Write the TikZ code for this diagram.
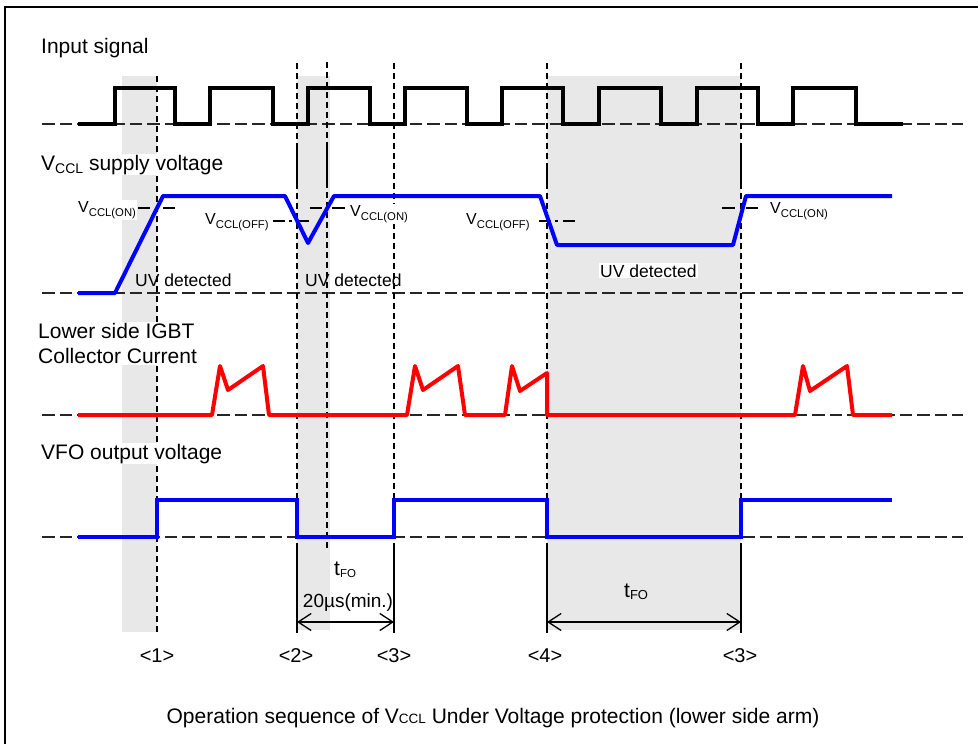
\documentclass[tikz,border=0pt]{standalone}
\usepackage{fontspec}
\setmainfont{Liberation Sans}
\usetikzlibrary{arrows.meta}
\newcommand{\myfs}[1]{\fontsize{#1}{#1}\selectfont}
\newcommand{\lowsub}[3]{\raisebox{-#3pt}{\myfs{#2}#1}}
\begin{document}
\begin{tikzpicture}[x=1pt,y=-1pt,
  hbase/.style={draw=black!85,line width=1.3pt,dash pattern=on 12.5pt off 5pt},
  vline/.style={draw=black,line width=1.2pt,dash pattern=on 6pt off 4pt},
  sline/.style={draw=black,line width=1.8pt},
  shadebox/.style={fill=black!9},
  wave/.style={line width=4pt},
  lbl/.style={inner sep=1pt,fill=white,font=\myfs{21}},
  thr/.style={draw=black,line width=1.3pt},
  dimarrow/.style={draw=black,line width=1.3pt,{Straight Barb[length=13pt,width=17pt]}-{Straight Barb[length=13pt,width=17pt]}}
]
\useasboundingbox (0,0) rectangle (978,744);
\fill[white] (0,0) rectangle (978,744);
% frame
\draw[line width=2pt] (5,760) -- (5,7) -- (990,7);

% shaded regions
\fill[shadebox] (122,76) rectangle (157,632);
\fill[shadebox] (297,76) rectangle (330,630);
\fill[shadebox] (547,76) rectangle (741,630);

% horizontal dashed baselines
\draw[hbase] (42,124) -- (963,124);
\draw[hbase] (42,293) -- (963,293);
\draw[hbase] (42,415) -- (963,415);
\draw[hbase] (42,537) -- (963,537);

% vertical dashed lines
\draw[vline] (157,76) -- (157,632);
\draw[vline] (297,63) -- (297,545);
\draw[vline] (327,62) -- (327,550);
\draw[vline] (394,63) -- (394,545);
\draw[vline] (547,63) -- (547,545);
\draw[vline] (741,63) -- (741,545);
% short solid pieces
\draw[sline] (297,148) -- (297,185);
\draw[sline] (327,148) -- (327,185);
\draw[sline] (547,163) -- (547,185);
\draw[sline] (741,148) -- (741,185);
% solid limit lines
\draw[sline] (297,545) -- (297,633);
\draw[sline] (394,545) -- (394,633);
\draw[sline] (547,545) -- (547,633);
\draw[sline] (741,545) -- (741,633);

% signal labels
\node[lbl,anchor=base west] (lin) at (40,53) {Input signal};
\node[lbl,anchor=base west] (lvccl) at (40,170) {V\lowsub{CCL}{14}{3.5} supply voltage};
\node[lbl,anchor=north west,align=left,font=\fontsize{21}{25}\selectfont] (lic) at (37,322) {Lower side IGBT\\Collector Current};
\node[lbl,anchor=base west] (lvfo) at (40,459) {VFO output voltage};

% threshold labels
\node[lbl,anchor=base west,font=\myfs{16}] (on1) at (77,212) {V\lowsub{CCL(ON)}{11.3}{4.5}};
\node[lbl,anchor=base west,font=\myfs{16}] (on2) at (349,216) {V\lowsub{CCL(ON)}{11.3}{4.5}};
\node[lbl,anchor=base west,font=\myfs{16}] (on3) at (769,213) {V\lowsub{CCL(ON)}{11.3}{4.5}};
\node[lbl,anchor=base west,font=\myfs{16}] (off1) at (204,224) {V\lowsub{CCL(OFF)}{11.3}{4.5}};
\node[lbl,anchor=base west,font=\myfs{16}] (off2) at (465,224) {V\lowsub{CCL(OFF)}{11.3}{4.5}};

% threshold dashes
\draw[thr] (138,208) -- (150,208);
\draw[thr] (163,208) -- (175,208);
\draw[thr] (310,208) -- (322,208);
\draw[thr] (332,208) -- (345,208);
\draw[thr] (722,208) -- (735,208);
\draw[thr] (746,208) -- (758,208);
\draw[thr,dash pattern=on 12pt off 4pt on 3pt off 5pt on 12pt off 20pt] (273,221) -- (309,221);
\draw[thr,dash pattern=on 12pt off 4pt on 3pt off 5pt on 12pt off 20pt] (539,221) -- (575,221);

% UV detected labels
\node[inner sep=1pt,anchor=base west,font=\myfs{17.5}] (uv1) at (134,286) {UV detected};
\node[inner sep=1pt,anchor=base west,font=\myfs{17.5}] (uv2) at (304,286) {UV detected};
\node[inner sep=1pt,fill=white,anchor=base west,font=\myfs{17.5}] (uv3) at (599,277) {UV detected};

% input signal
\draw[wave,black] (78,124) -- (115,124) -- (115,88) -- (175,88) -- (175,124)
  -- (210,124) -- (210,88) -- (273,88) -- (273,124)
  -- (308,124) -- (308,88) -- (370,88) -- (370,124)
  -- (405,124) -- (405,88) -- (467,88) -- (467,124)
  -- (502,124) -- (502,88) -- (563,88) -- (563,124)
  -- (599,124) -- (599,88) -- (661,88) -- (661,124)
  -- (697,124) -- (697,88) -- (758,88) -- (758,124)
  -- (793,124) -- (793,88) -- (856,88) -- (856,124) -- (903,124);

% VCCL supply voltage
\draw[wave,blue,line join=round] (78,293) -- (115,293) -- (163,196) -- (285,196)
  -- (308,243) -- (334,196) -- (540,196) -- (557,245) -- (733,245) -- (746,196) -- (892,196);

% collector current
\draw[wave,red,line join=round] (78,415) -- (212,415) -- (220,366) -- (228,390) -- (263,366) -- (269,415)
  -- (407,415) -- (415,366) -- (423,390) -- (458,366) -- (465,415)
  -- (505,415) -- (512,366) -- (520,391) -- (547,373) -- (547,415)
  -- (795,415) -- (803,366) -- (810,391) -- (847,366) -- (853,415) -- (892,415);

% VFO output voltage
\draw[wave,blue] (78,537) -- (157,537) -- (157,500) -- (297,500) -- (297,537)
  -- (394,537) -- (394,500) -- (547,500) -- (547,537) -- (741,537) -- (741,500) -- (892,500);

% dimension arrows
\coordinate (a1) at (297,622);
\coordinate (b1) at (394,622);
\coordinate (a2) at (547,622);
\coordinate (b2) at (741,622);
\draw[dimarrow] (a1) -- (b1);
\draw[dimarrow] (a2) -- (b2);
\node[inner sep=0pt,anchor=base west,font=\myfs{21}] (tfo1) at (334,575) {t\lowsub{FO}{11.5}{2.5}};
\node[inner sep=0pt,anchor=base,font=\myfs{19}] (tmin) at (348,607) {20µs(min.)};
\node[inner sep=0pt,anchor=base west,font=\myfs{21}] (tfo2) at (624,597) {t\lowsub{FO}{13}{2.5}};

% sequence markers
\node[inner sep=0pt,anchor=base,font=\myfs{20}] (m1) at (157,662) {<1>};
\node[inner sep=0pt,anchor=base,font=\myfs{20}] (m2) at (296,662) {<2>};
\node[inner sep=0pt,anchor=base,font=\myfs{20}] (m3) at (394,662) {<3>};
\node[inner sep=0pt,anchor=base,font=\myfs{20}] (m4) at (545,662) {<4>};
\node[inner sep=0pt,anchor=base,font=\myfs{20}] (m5) at (740,662) {<3>};

% caption
\node[inner sep=0pt,anchor=base,font=\myfs{21}] (cap) at (493,723) {Operation sequence of V{\myfs{13.5}CCL} Under Voltage protection (lower side arm)};
\end{tikzpicture}
\end{document}
